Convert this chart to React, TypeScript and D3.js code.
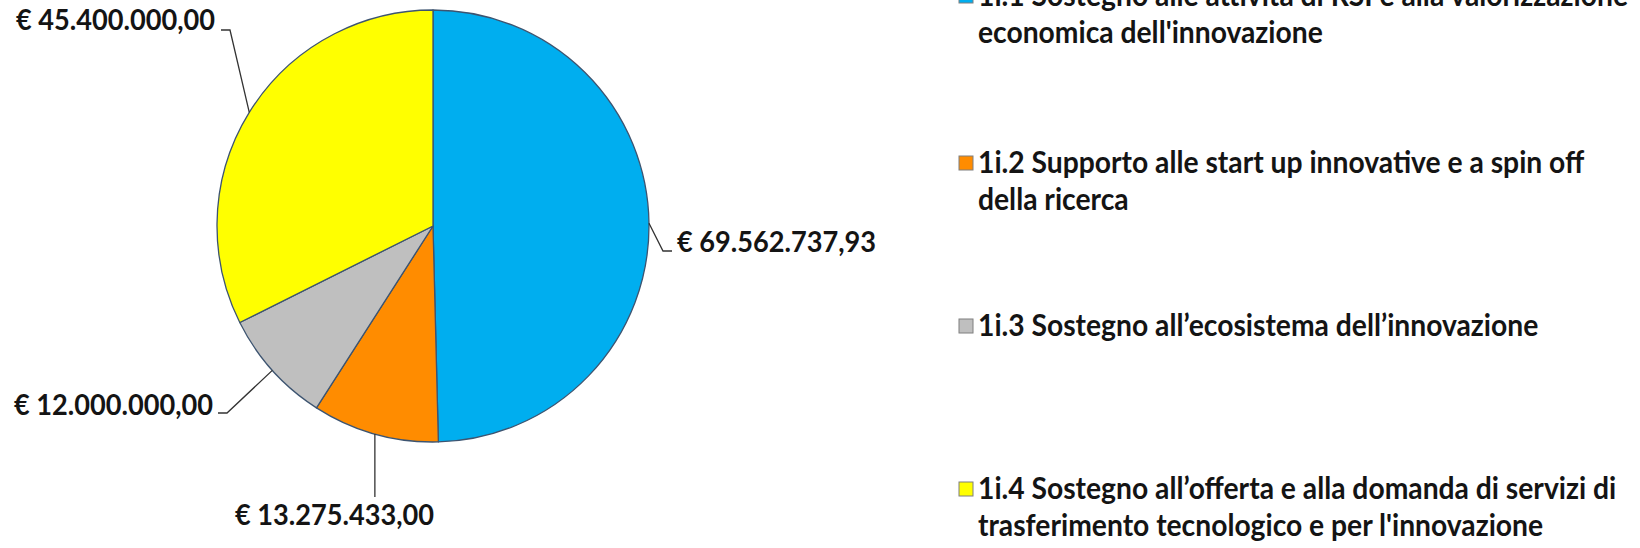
import React, { useEffect, useRef } from "react";
import * as d3 from "d3";

// ---- data ----
const categories = ["1i.1", "1i.2", "1i.3", "1i.4"];
const legendLines: string[][] = [
  ["1i.1 Sostegno alle attività di RSI e alla valorizzazione", "economica dell'innovazione"],
  ["1i.2 Supporto alle start up innovative e a spin off", "della ricerca"],
  ["1i.3 Sostegno all’ecosistema dell’innovazione"],
  ["1i.4 Sostegno all’offerta e alla domanda di servizi di", "trasferimento tecnologico e per l'innovazione"],
];
const values = [69562737.93, 13275433.0, 12000000.0, 45400000.0];
const colors = ["#00AEEF", "#FF8C00", "#BFBFBF", "#FFFF00"];

const W = 1640;
const H = 548;

const itLocale = d3.formatLocale({
  decimal: ",",
  thousands: ".",
  grouping: [3],
  currency: ["€ ", ""],
});
const fmt = itLocale.format("$,.2f");

export default function App() {
  const ref = useRef<SVGSVGElement>(null);

  useEffect(() => {
    const svg = d3.select(ref.current);
    svg.selectAll("*").remove();

    const cx = 433;
    const cy = 226;
    const R = 216;

    const pie = d3.pie<number>().sort(null).value((d) => d);
    const arcs = pie(values);
    const arc = d3.arc<d3.PieArcDatum<number>>().innerRadius(0).outerRadius(R);

    const g = svg.append("g").attr("transform", `translate(${cx},${cy})`);
    g.selectAll("path")
      .data(arcs)
      .join("path")
      .attr("d", arc as any)
      .attr("fill", (_d, i) => colors[i])
      .attr("stroke", "#3d5470")
      .attr("stroke-width", 1.3)
      .attr("stroke-linejoin", "round");

    // data labels with leader lines
    const layout = [
      { elbow: [663, 251], end: [672, 251], tx: 677, ty: 252, anchor: "start" },
      { elbow: null, end: [null, 497], tx: 334.5, ty: 525, anchor: "middle" },
      { elbow: [227, 413], end: [218, 413], tx: 213, ty: 415, anchor: "end" },
      { elbow: [230, 30], end: [221, 30], tx: 215, ty: 30, anchor: "end" },
    ];

    const labelNodes: SVGTextElement[] = [];
    arcs.forEach((a, i) => {
      const ang = (a.startAngle + a.endAngle) / 2;
      const ex = cx + R * Math.sin(ang);
      const ey = cy - R * Math.cos(ang);
      const L = layout[i];
      let pts: [number, number][];
      if (L.elbow) {
        pts = [[ex, ey], [L.elbow[0] as number, L.elbow[1] as number], [L.end[0] as number, L.end[1] as number]];
      } else {
        pts = [[ex, ey], [ex, L.end[1] as number]];
      }
      svg.append("path")
        .attr("d", d3.line()(pts))
        .attr("fill", "none")
        .attr("stroke", "#333")
        .attr("stroke-width", 1.3);
      const t = svg.append("text")
        .attr("x", L.tx)
        .attr("y", L.ty)
        .attr("text-anchor", L.anchor)
        .attr("font-family", "Lato, 'Open Sans', sans-serif")
        .attr("font-weight", 700)
        .attr("font-size", 28)
        .attr("fill", "#141414")
        .text(fmt(values[i]));
      labelNodes.push(t.node() as SVGTextElement);
    });
    const lw0 = labelNodes[0].getComputedTextLength();
    const kLab = 199 / lw0;
    labelNodes.forEach((n) => {
      n.setAttribute("textLength", String(n.getComputedTextLength() * kLab));
      n.setAttribute("lengthAdjust", "spacingAndGlyphs");
    });

    // legend
    const legX = 978;
    const baselines = [6, 173, 336, 499];
    const lineGap = 37;
    const legNodes: SVGTextElement[] = [];
    categories.forEach((_c, i) => {
      const b = baselines[i];
      svg.append("rect")
        .attr("x", 959)
        .attr("y", b - 17)
        .attr("width", 14)
        .attr("height", 14)
        .attr("fill", colors[i])
        .attr("stroke", "#7f7f7f")
        .attr("stroke-width", 1);
      legendLines[i].forEach((line, j) => {
        const t = svg.append("text")
          .attr("x", legX)
          .attr("y", b + j * lineGap)
          .attr("font-family", "Lato, 'Open Sans', sans-serif")
          .attr("font-weight", 700)
          .attr("font-size", 29.5)
          .attr("fill", "#141414")
          .text(line);
        legNodes.push(t.node() as SVGTextElement);
      });
    });
    const k = 650 / legNodes[0].getComputedTextLength();
    legNodes.forEach((n) => {
      n.setAttribute("textLength", String(n.getComputedTextLength() * k));
      n.setAttribute("lengthAdjust", "spacingAndGlyphs");
    });
  }, []);

  return (
    <svg
      ref={ref}
      width={W}
      height={H}
      style={{ position: "absolute", left: 0, top: 0, background: "#fff" }}
    />
  );
}
